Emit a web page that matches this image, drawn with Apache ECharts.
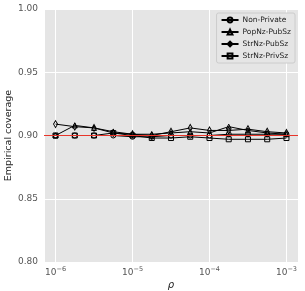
<!DOCTYPE html>
<html><head><meta charset="utf-8">
<script src="https://cdn.jsdelivr.net/npm/echarts@6/dist/echarts.min.js"></script>
<style>html,body{margin:0;padding:0;background:#fff}#c{width:305px;height:291px}</style>
</head><body><div id="c"></div>
<script>
var rho = [1e-6, 1.778e-6, 3.162e-6, 5.623e-6, 1e-5, 1.778e-5, 3.162e-5, 5.623e-5, 1e-4, 1.778e-4, 3.162e-4, 5.623e-4, 1e-3];
var nonPrivate = [0.900, 0.900, 0.900, 0.900, 0.899, 0.899, 0.900, 0.900, 0.900, 0.901, 0.901, 0.901, 0.901];
var popNzPubSz = [0.900, 0.908, 0.906, 0.903, 0.901, 0.901, 0.902, 0.903, 0.902, 0.907, 0.904, 0.902, 0.901];
var strNzPubSz = [0.909, 0.907, 0.906, 0.902, 0.901, 0.900, 0.903, 0.906, 0.904, 0.904, 0.905, 0.903, 0.902];
var strNzPrivSz = [0.900, 0.900, 0.900, 0.902, 0.900, 0.898, 0.898, 0.899, 0.898, 0.897, 0.897, 0.897, 0.898];
var seriesNames = ['Non-Private', 'PopNz-PubSz', 'StrNz-PubSz', 'StrNz-PrivSz'];
var yTicks = [0.80, 0.85, 0.90, 0.95, 1.00];
var target = 0.90;

var font = 'DejaVu Sans';
function pair(arr){ return rho.map(function(x,i){ return [x, arr[i]]; }); }
var symbols = ['circle', 'triangle', 'path://M0,-10 L5,0 L0,10 L-5,0 Z', 'rect'];
var dataSets = [nonPrivate, popNzPubSz, strNzPubSz, strNzPrivSz];
var series = dataSets.map(function(d, k){
  return {
    name: seriesNames[k], type: 'line', data: pair(d),
    symbol: symbols[k], symbolSize: k===2 ? [4,7] : 5,
    lineStyle: {color: '#000', width: 1},
    itemStyle: {color: 'rgba(0,0,0,0)', borderColor: '#000', borderWidth: 1},
    emphasis: {disabled: true}, animation: false, z: 3
  };
});
series[0].markLine = {
  silent: true, symbol: 'none', label: {show: false},
  lineStyle: {color: '#e8352a', width: 1, type: 'solid'},
  data: [{yAxis: target}]
};
var chart = echarts.init(document.getElementById('c'));
chart.setOption({
  animation: false,
  backgroundColor: '#fff',
  grid: {left: 44, right: 7, top: 9, bottom: 29, show: true, backgroundColor: '#e5e5e5', borderWidth: 0,
         containLabel: false, outerBoundsMode: 'none'},
  xAxis: {
    type: 'log', logBase: 10,
    min: Math.pow(10, -6.15), max: Math.pow(10, -2.85),
    name: 'ρ', nameLocation: 'middle', nameGap: 18, nameMoveOverlap: false,
    nameTextStyle: {fontFamily: font, fontSize: 10, fontStyle: 'italic', color: '#222'},
    axisLine: {show: false}, axisTick: {show: false},
    axisLabel: {
      showMinLabel: false, showMaxLabel: false, margin: 4,
      fontFamily: font, fontSize: 9, color: '#555',
      formatter: function(v){ var e = Math.round(Math.log10(v)); return '10{s|' + String(e).replace('-', '\u2212') + '}'; },
      rich: {s: {fontSize: 6.5, verticalAlign: 'top', padding: [0,0,6,0], fontFamily: font, color: '#555'}}
    },
    splitLine: {show: true, lineStyle: {color: '#fff', width: 1}}
  },
  yAxis: {
    type: 'value', min: yTicks[0], max: yTicks[yTicks.length-1], interval: 0.05,
    name: 'Empirical coverage', nameLocation: 'middle', nameGap: 30, nameMoveOverlap: false,
    nameTextStyle: {fontFamily: font, fontSize: 9.5, color: '#222'},
    axisLine: {show: false}, axisTick: {show: false},
    axisLabel: {fontFamily: font, fontSize: 9, color: '#555', margin: 6, formatter: function(v){ return v.toFixed(2); }},
    splitLine: {show: true, lineStyle: {color: '#fff', width: 1}}
  },
  legend: {
    orient: 'vertical', right: 10, top: 13,
    itemWidth: 17, itemHeight: 6, itemGap: 4,
    backgroundColor: '#e5e5e5', borderColor: '#cccccc', borderWidth: 1, borderRadius: 2,
    padding: [3, 4, 3, 4],
    textStyle: {fontFamily: font, fontSize: 7.5, color: '#222', padding: [0,0,0,-1]},
    data: seriesNames
  },
  series: series
});
</script></body></html>
